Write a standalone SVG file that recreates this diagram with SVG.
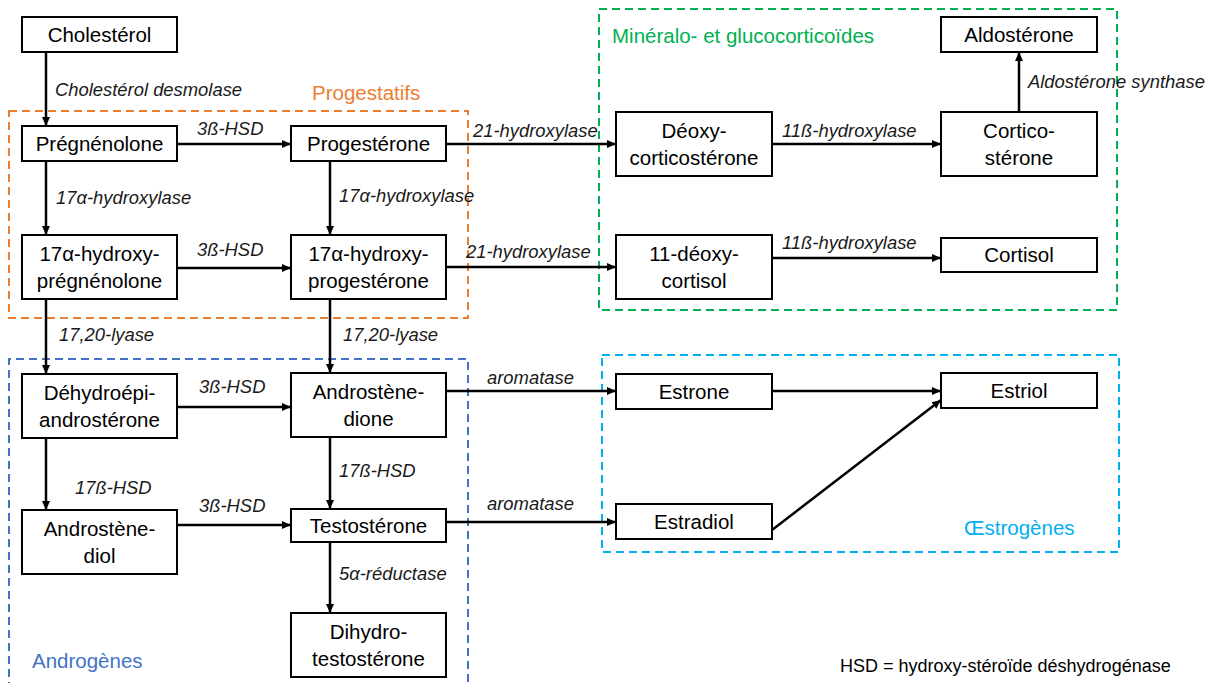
<svg xmlns="http://www.w3.org/2000/svg" width="1215" height="683" viewBox="0 0 1215 683">
<style>
.n rect{fill:#fff;stroke:#000;stroke-width:2}
.n text{font-family:"Liberation Sans",Arial,sans-serif;font-size:20.5px;fill:#000;text-anchor:middle}
.lbl{font-family:"Liberation Sans",Arial,sans-serif;font-size:18.4px;font-style:italic;fill:#1a1a1a}
.grp{fill:none;stroke-width:2;stroke-dasharray:8 5}
.gl{font-family:"Liberation Sans",Arial,sans-serif;font-size:20.5px}
#connectors line{stroke:#000;stroke-width:2.5;marker-end:url(#ah)}
</style>
<defs>
<marker id="ah" markerUnits="userSpaceOnUse" markerWidth="10" markerHeight="10" refX="9" refY="5" orient="auto">
<path d="M0,1 L9,5 L0,9 z" fill="#000"/>
</marker>
</defs>
<rect width="1215" height="683" fill="#fff"/>
<g id="groups">
<rect class="grp" x="9" y="111" width="459" height="207" stroke="#ED7D31"/>
<text class="gl" x="312" y="100" fill="#ED7D31">Progestatifs</text>
<rect class="grp" x="599" y="9" width="518" height="301" stroke="#00B050"/>
<text class="gl" x="612" y="43" fill="#00B050">Minéralo- et glucocorticoïdes</text>
<path class="grp" d="M9,690 V359 H468 V690" stroke="#4472C4"/>
<text class="gl" x="32" y="668" fill="#4472C4">Androgènes</text>
<rect class="grp" x="602" y="355" width="517" height="197" stroke="#00B0F0"/>
<text class="gl" x="964" y="535" fill="#00B0F0">Œstrogènes</text>
</g>
<g id="connectors">
<line x1="46" y1="52" x2="46" y2="126"/>
<line x1="177" y1="144" x2="291" y2="144"/>
<line x1="46" y1="161" x2="46" y2="235"/>
<line x1="330" y1="161" x2="330" y2="235"/>
<line x1="177" y1="268" x2="291" y2="268"/>
<line x1="446" y1="144" x2="616" y2="144"/>
<line x1="446" y1="267" x2="616" y2="267"/>
<line x1="772" y1="144" x2="941" y2="144"/>
<line x1="772" y1="258" x2="941" y2="258"/>
<line x1="1019" y1="112" x2="1019" y2="52"/>
<line x1="46" y1="299" x2="46" y2="374"/>
<line x1="330" y1="299" x2="330" y2="373"/>
<line x1="177" y1="407" x2="291" y2="407"/>
<line x1="46" y1="438" x2="46" y2="510"/>
<line x1="330" y1="437" x2="330" y2="509"/>
<line x1="177" y1="525" x2="291" y2="525"/>
<line x1="330" y1="542" x2="330" y2="613"/>
<line x1="446" y1="391" x2="616" y2="391"/>
<line x1="446" y1="522" x2="616" y2="522"/>
<line x1="772" y1="391" x2="941" y2="391"/>
<line x1="772" y1="530" x2="941" y2="400"/>
</g>
<g id="labels">
<text class="lbl" x="55" y="96">Cholestérol desmolase</text>
<text class="lbl" x="197" y="135">3ß-HSD</text>
<text class="lbl" x="56" y="204">17α-hydroxylase</text>
<text class="lbl" x="339" y="202">17α-hydroxylase</text>
<text class="lbl" x="197" y="256">3ß-HSD</text>
<text class="lbl" x="473" y="137">21-hydroxylase</text>
<text class="lbl" x="466" y="258">21-hydroxylase</text>
<text class="lbl" x="782" y="137">11ß-hydroxylase</text>
<text class="lbl" x="782" y="249">11ß-hydroxylase</text>
<text class="lbl" x="1028" y="88">Aldostérone synthase</text>
<text class="lbl" x="59" y="341">17,20-lyase</text>
<text class="lbl" x="343" y="341">17,20-lyase</text>
<text class="lbl" x="199" y="393">3ß-HSD</text>
<text class="lbl" x="75" y="494">17ß-HSD</text>
<text class="lbl" x="199" y="512">3ß-HSD</text>
<text class="lbl" x="339" y="477">17ß-HSD</text>
<text class="lbl" x="339" y="580">5α-réductase</text>
<text class="lbl" x="487" y="384">aromatase</text>
<text class="lbl" x="487" y="510">aromatase</text>
<text x="840" y="672" font-family="Liberation Sans, Arial, sans-serif" font-size="18" fill="#000">HSD = hydroxy-stéroïde déshydrogénase</text>
</g>
<g id="cholesterol" class="n"><rect x="22" y="17" width="155" height="35"/><text x="99.5" y="41.5">Cholestérol</text></g>
<g id="pregnenolone" class="n"><rect x="22" y="126" width="155" height="35"/><text x="99.5" y="150.5">Prégnénolone</text></g>
<g id="progesterone" class="n"><rect x="291" y="126" width="155" height="35"/><text x="368.5" y="150.5">Progestérone</text></g>
<g id="oh-pregnenolone" class="n"><rect x="22" y="235" width="155" height="64"/><text x="99.5" y="260.5">17α-hydroxy-</text><text x="99.5" y="287.5">prégnénolone</text></g>
<g id="oh-progesterone" class="n"><rect x="291" y="235" width="155" height="64"/><text x="368.5" y="260.5">17α-hydroxy-</text><text x="368.5" y="287.5">progestérone</text></g>
<g id="dhea" class="n"><rect x="22" y="374" width="155" height="64"/><text x="99.5" y="399.5">Déhydroépi-</text><text x="99.5" y="426.5">androstérone</text></g>
<g id="androstenedione" class="n"><rect x="291" y="373" width="155" height="64"/><text x="368.5" y="398.5">Androstène-</text><text x="368.5" y="425.5">dione</text></g>
<g id="androstenediol" class="n"><rect x="22" y="510" width="155" height="64"/><text x="99.5" y="535.5">Androstène-</text><text x="99.5" y="562.5">diol</text></g>
<g id="testosterone" class="n"><rect x="291" y="509" width="155" height="33"/><text x="368.5" y="532.5">Testostérone</text></g>
<g id="dht" class="n"><rect x="291" y="613" width="155" height="64"/><text x="368.5" y="638.5">Dihydro-</text><text x="368.5" y="665.5">testostérone</text></g>
<g id="deoxycorticosterone" class="n"><rect x="616" y="112" width="156" height="64"/><text x="694" y="137.5">Déoxy-</text><text x="694" y="164.5">corticostérone</text></g>
<g id="deoxycortisol" class="n"><rect x="616" y="235" width="156" height="64"/><text x="694" y="260.5">11-déoxy-</text><text x="694" y="287.5">cortisol</text></g>
<g id="aldosterone" class="n"><rect x="941" y="17" width="156" height="35"/><text x="1019" y="41.5">Aldostérone</text></g>
<g id="corticosterone" class="n"><rect x="941" y="112" width="156" height="64"/><text x="1019" y="137.5">Cortico-</text><text x="1019" y="164.5">stérone</text></g>
<g id="cortisol" class="n"><rect x="941" y="238" width="156" height="34"/><text x="1019" y="262">Cortisol</text></g>
<g id="estrone" class="n"><rect x="616" y="374" width="156" height="35"/><text x="694" y="398.5">Estrone</text></g>
<g id="estradiol" class="n"><rect x="616" y="504" width="156" height="35"/><text x="694" y="528.5">Estradiol</text></g>
<g id="estriol" class="n"><rect x="941" y="373" width="156" height="35"/><text x="1019" y="397.5">Estriol</text></g>
</svg>
